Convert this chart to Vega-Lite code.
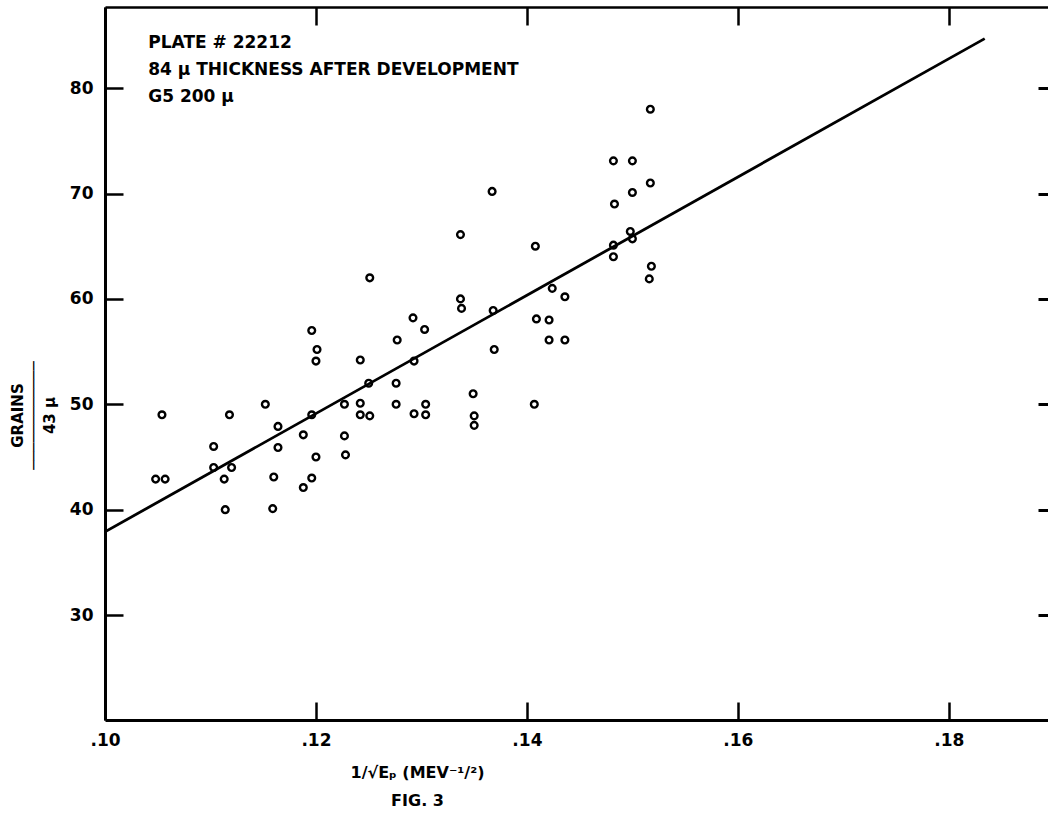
{
  "$schema": "https://vega.github.io/schema/vega-lite/v6.json",
  "width": 943,
  "height": 713,
  "autosize": {"type": "none"},
  "padding": {"left": 105, "top": 7, "right": 0, "bottom": 112},
  "background": "white",
  "config": {"view": {"stroke": null}, "font": "DejaVu Sans"},
  "resolve": {"axis": {"x": "independent", "y": "independent"}},
  "layer": [
    {
      "data": {"values": [
        {"x": 0.1054, "y": 49.0}, {"x": 0.1048, "y": 42.9}, {"x": 0.1057, "y": 42.9},
        {"x": 0.1103, "y": 46.0}, {"x": 0.1103, "y": 44.0}, {"x": 0.1113, "y": 42.9},
        {"x": 0.1120, "y": 44.0}, {"x": 0.1118, "y": 49.0}, {"x": 0.1114, "y": 40.0},
        {"x": 0.1152, "y": 50.0}, {"x": 0.1164, "y": 47.9}, {"x": 0.1164, "y": 45.9},
        {"x": 0.1160, "y": 43.1}, {"x": 0.1159, "y": 40.1}, {"x": 0.1196, "y": 57.0},
        {"x": 0.1201, "y": 55.2}, {"x": 0.1200, "y": 54.1}, {"x": 0.1196, "y": 49.0},
        {"x": 0.1188, "y": 47.1}, {"x": 0.1200, "y": 45.0}, {"x": 0.1196, "y": 43.0},
        {"x": 0.1188, "y": 42.1}, {"x": 0.1227, "y": 50.0}, {"x": 0.1227, "y": 47.0},
        {"x": 0.1228, "y": 45.2}, {"x": 0.1337, "y": 66.1}, {"x": 0.1408, "y": 65.0},
        {"x": 0.1251, "y": 62.0}, {"x": 0.1337, "y": 60.0}, {"x": 0.1338, "y": 59.1},
        {"x": 0.1368, "y": 58.9}, {"x": 0.1292, "y": 58.2}, {"x": 0.1303, "y": 57.1},
        {"x": 0.1409, "y": 58.1}, {"x": 0.1421, "y": 58.0}, {"x": 0.1421, "y": 56.1},
        {"x": 0.1277, "y": 56.1}, {"x": 0.1369, "y": 55.2}, {"x": 0.1242, "y": 54.2},
        {"x": 0.1293, "y": 54.1}, {"x": 0.1250, "y": 52.0}, {"x": 0.1276, "y": 52.0},
        {"x": 0.1349, "y": 51.0}, {"x": 0.1242, "y": 50.1}, {"x": 0.1276, "y": 50.0},
        {"x": 0.1304, "y": 50.0}, {"x": 0.1242, "y": 49.0}, {"x": 0.1251, "y": 48.9},
        {"x": 0.1293, "y": 49.1}, {"x": 0.1304, "y": 49.0}, {"x": 0.1350, "y": 48.9},
        {"x": 0.1350, "y": 48.0}, {"x": 0.1407, "y": 50.0}, {"x": 0.1517, "y": 78.0},
        {"x": 0.1482, "y": 73.1}, {"x": 0.1500, "y": 73.1}, {"x": 0.1517, "y": 71.0},
        {"x": 0.1500, "y": 70.1}, {"x": 0.1483, "y": 69.0}, {"x": 0.1498, "y": 66.4},
        {"x": 0.1500, "y": 65.7}, {"x": 0.1482, "y": 65.1}, {"x": 0.1482, "y": 64.0},
        {"x": 0.1518, "y": 63.1}, {"x": 0.1516, "y": 61.9}, {"x": 0.1424, "y": 61.0},
        {"x": 0.1436, "y": 60.2}, {"x": 0.1436, "y": 56.1}, {"x": 0.1367, "y": 70.2}
      ]},
      "mark": {"type": "point", "shape": "circle", "filled": false, "stroke": "black", "strokeWidth": 2.4, "size": 45, "opacity": 1},
      "encoding": {
        "x": {
          "field": "x", "type": "quantitative",
          "scale": {"domain": [0.10, 0.1894], "nice": false, "zero": false},
          "axis": {
            "orient": "bottom", "values": [0.10, 0.12, 0.14, 0.16, 0.18],
            "format": ".2f", "labelExpr": "replace(datum.label, '0.', '.')",
            "grid": false, "tickSize": -18, "tickWidth": 2.5, "tickColor": "black",
            "domainColor": "black", "domainWidth": 3,
            "labelFont": "DejaVu Sans", "labelFontWeight": "bold", "labelFontSize": 17,
            "labelColor": "black", "labelPadding": 30, "labelFlush": false,
            "title": ["1/√Eₚ  (MEV⁻¹/²)", "FIG. 3"],
            "titleFont": "DejaVu Sans", "titleFontWeight": "bold", "titleFontSize": 16,
            "titleColor": "black", "titleX": 312, "titleY": 52, "titleAnchor": "middle",
            "titleAlign": "center", "titleBaseline": "middle", "titleLineHeight": 28
          }
        },
        "y": {
          "field": "y", "type": "quantitative",
          "scale": {"domain": [20.04, 87.7], "nice": false, "zero": false},
          "axis": {
            "orient": "left", "values": [30, 40, 50, 60, 70, 80],
            "grid": false, "tickSize": -18, "tickWidth": 2.5, "tickColor": "black",
            "domainColor": "black", "domainWidth": 3,
            "labelFont": "DejaVu Sans", "labelFontWeight": "bold", "labelFontSize": 17,
            "labelColor": "black", "labelPadding": 30, "labelFlush": false,
            "title": ["GRAINS", "────────────", "43 μ"],
            "titleFont": "DejaVu Sans", "titleFontWeight": "bold", "titleFontSize": 15,
            "titleColor": "black", "titleAngle": 270, "titleX": -88, "titleY": 408,
            "titleAlign": "center", "titleBaseline": "middle", "titleLineHeight": 16
          }
        }
      }
    },
    {
      "data": {"values": [{"x": 0.10, "y": 37.9}, {"x": 0.1834, "y": 84.7}]},
      "mark": {"type": "line", "stroke": "black", "strokeWidth": 2.8, "clip": true},
      "encoding": {
        "x": {
          "field": "x", "type": "quantitative",
          "scale": {"domain": [0.10, 0.1894], "nice": false, "zero": false},
          "axis": {
            "orient": "top", "values": [0.10, 0.12, 0.14, 0.16, 0.18],
            "labels": false, "grid": false, "tickSize": -18, "tickWidth": 2.5,
            "tickColor": "black", "domainColor": "black", "domainWidth": 2.5, "title": null
          }
        },
        "y": {
          "field": "y", "type": "quantitative",
          "scale": {"domain": [20.04, 87.7], "nice": false, "zero": false},
          "axis": {
            "orient": "right", "values": [30, 40, 50, 60, 70, 80],
            "labels": false, "grid": false, "tickSize": -10, "tickWidth": 3,
            "tickColor": "black", "domain": false, "title": null
          }
        }
      }
    },
    {
      "data": {"values": [{}]},
      "mark": {
        "type": "text", "align": "left", "baseline": "top",
        "font": "DejaVu Sans", "fontWeight": "bold", "fontSize": 17, "lineHeight": 27,
        "color": "black",
        "text": ["PLATE # 22212", "84 μ THICKNESS AFTER DEVELOPMENT", "G5 200 μ"]
      },
      "encoding": {
        "x": {"datum": 0.1041, "type": "quantitative", "scale": {"domain": [0.10, 0.1894], "nice": false, "zero": false}, "axis": null},
        "y": {"datum": 85.0, "type": "quantitative", "scale": {"domain": [20.04, 87.7], "nice": false, "zero": false}, "axis": null}
      }
    }
  ]
}
